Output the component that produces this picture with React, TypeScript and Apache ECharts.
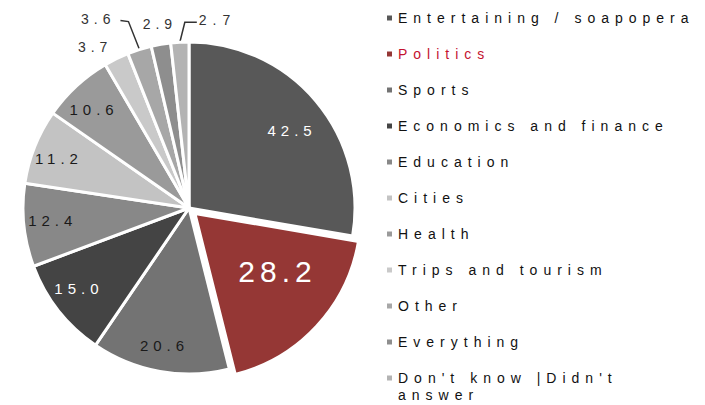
import { useEffect, useRef } from 'react';
import * as echarts from 'echarts';

const categories = [
  'Entertaining / soapopera',
  'Politics',
  'Sports',
  'Economics and finance',
  'Education',
  'Cities',
  'Health',
  'Trips and tourism',
  'Other',
  'Everything',
  "Don't know |Didn't answer",
];
const values = [42.5, 28.2, 20.6, 15.0, 12.4, 11.2, 10.6, 3.7, 3.6, 2.9, 2.7];
const sliceColors = ['#585858', '#953735', '#737373', '#444444', '#888888', '#c3c3c3', '#9a9a9a', '#c9c9c9', '#a7a7a7', '#8e8e8e', '#b3b3b3'];
const labelColors = ['#ffffff', '#ffffff', '#1a1a1a', '#ffffff', '#1a1a1a', '#1a1a1a', '#1a1a1a', '#333333', '#333333', '#333333', '#333333'];

// layout / style settings (not data)
const CX = 189;
const CY = 208;
const R = 166;
const HIGHLIGHT = 1;
const insideShift: Record<number, number[]> = {
  0: [-4, 13],
  1: [-20, -37],
  3: [0, -6],
  4: [3, -2],
  5: [0, 2],
  6: [0, 4],
};
const insideFont: Record<number, number> = { 1: 30 };
type Outer = { dx: number; dy: number; align: string; line?: number[][] };
const outerPlacement: Record<number, Outer> = {
  7: { dx: -4, dy: -12, align: 'right' },
  8: { dx: -24, dy: -31, align: 'right', line: [[-11, -28], [-19, -29]] },
  9: { dx: -1, dy: -20, align: 'center' },
  10: { dx: 19, dy: -22, align: 'left', line: [[5, -20], [17, -20]] },
};

export default function App() {
  const ref = useRef<HTMLDivElement>(null);
  useEffect(() => {
    const chart = echarts.init(ref.current!, null, { renderer: 'svg' });
    const total = values.reduce((a, b) => a + b, 0);
    const midPoint = (i: number) => {
      let s = 0;
      for (let k = 0; k < i; k++) s += values[k];
      const a = ((s + values[i] / 2) / total) * Math.PI * 2;
      return [CX + R * Math.sin(a), CY - R * Math.cos(a)];
    };
    const font = 'Liberation Sans, Arial, sans-serif';
    const option: any = {
      animation: false,
      backgroundColor: '#ffffff',
      legend: [
        {
          orient: 'vertical',
          left: 385,
          top: 11,
          padding: 0,
          itemWidth: 7,
          itemHeight: 7,
          itemGap: 22,
          icon: 'rect',
          selectedMode: false,
          textStyle: { fontFamily: font, fontSize: 14, color: '#111111', lineHeight: 14 },
          data: categories.slice(0, 10).map((n, i) =>
            i === HIGHLIGHT
              ? { name: n, itemStyle: { color: sliceColors[i] }, textStyle: { color: '#c4122f' } }
              : { name: n, itemStyle: { color: sliceColors[i] } }
          ),
        },
        {
          orient: 'vertical',
          left: 385,
          top: 352.5,
          padding: 0,
          itemWidth: 7,
          itemHeight: 7,
          icon: 'rect',
          selectedMode: false,
          formatter: (n: string) => '\n' + n.replace("Didn't ", "Didn't\n"),
          textStyle: { fontFamily: font, fontSize: 14, color: '#111111', lineHeight: 17 },
          data: categories.slice(10).map((n, i) => ({ name: n, itemStyle: { color: sliceColors[10 + i] } })),
        },
      ],
      series: [
        {
          type: 'pie',
          center: [CX, CY],
          radius: [0, R],
          startAngle: 90,
          clockwise: true,
          selectedMode: 'single',
          selectedOffset: 8,
          avoidLabelOverlap: false,
          silent: true,
          label: { show: false },
          labelLine: { show: false },
          itemStyle: { borderColor: '#ffffff', borderWidth: 3 },
          emphasis: { disabled: true },
          data: categories.map((n, i) => ({
            name: n,
            value: values[i],
            selected: i === HIGHLIGHT,
            itemStyle: { color: sliceColors[i] },
          })),
        },
        {
          type: 'pie',
          center: [CX, CY],
          radius: [108, R],
          startAngle: 90,
          clockwise: true,
          selectedMode: 'single',
          selectedOffset: 8,
          avoidLabelOverlap: false,
          silent: true,
          itemStyle: { color: 'rgba(0,0,0,0)', borderWidth: 0 },
          emphasis: { disabled: true },
          label: {
            show: true,
            position: 'inside',
            fontFamily: font,
            fontSize: 15,
            formatter: (p: any) => Number(p.value).toFixed(1),
          },
          labelLine: { show: false },
          labelLayout: (params: any) => {
            const i = params.dataIndex;
            const cfg = outerPlacement[i];
            if (!cfg) {
              const s = insideShift[i];
              return s ? { dx: s[0], dy: s[1] } : {};
            }
            let p0 = params.labelLinePoints && params.labelLinePoints[0];
            if (!p0) p0 = midPoint(i);
            const pts = cfg.line
              ? [p0, ...cfg.line.map(([a, b]) => [p0[0] + a, p0[1] + b])]
              : [p0, p0, p0];
            return {
              x: p0[0] + cfg.dx,
              y: p0[1] + cfg.dy,
              align: cfg.align,
              verticalAlign: 'middle',
              labelLinePoints: pts,
            };
          },
          data: categories.map((n, i) => {
            const outer = outerPlacement[i];
            const item: any = {
              name: n,
              value: values[i],
              selected: i === HIGHLIGHT,
              label: {
                color: labelColors[i],
                fontSize: outer ? 14 : insideFont[i] || 15,
              },
            };
            if (outer) {
              item.label.position = 'outside';
              item.labelLine = {
                show: true,
                length: 10,
                length2: 5,
                lineStyle: { color: '#333333', width: 1.5, opacity: outer.line ? 1 : 0 },
              };
            }
            return item;
          }),
        },
      ],
    };
    chart.setOption(option);
    return () => chart.dispose();
  }, []);
  return (
    <>
      <style>{`#chart text{letter-spacing:5px}#chart text[text-anchor="start"]{letter-spacing:6px}`}</style>
      <div
        id="chart"
        ref={ref}
        style={{ position: 'absolute', left: 0, top: 0, width: 705, height: 405, background: '#ffffff' }}
      />
    </>
  );
}
